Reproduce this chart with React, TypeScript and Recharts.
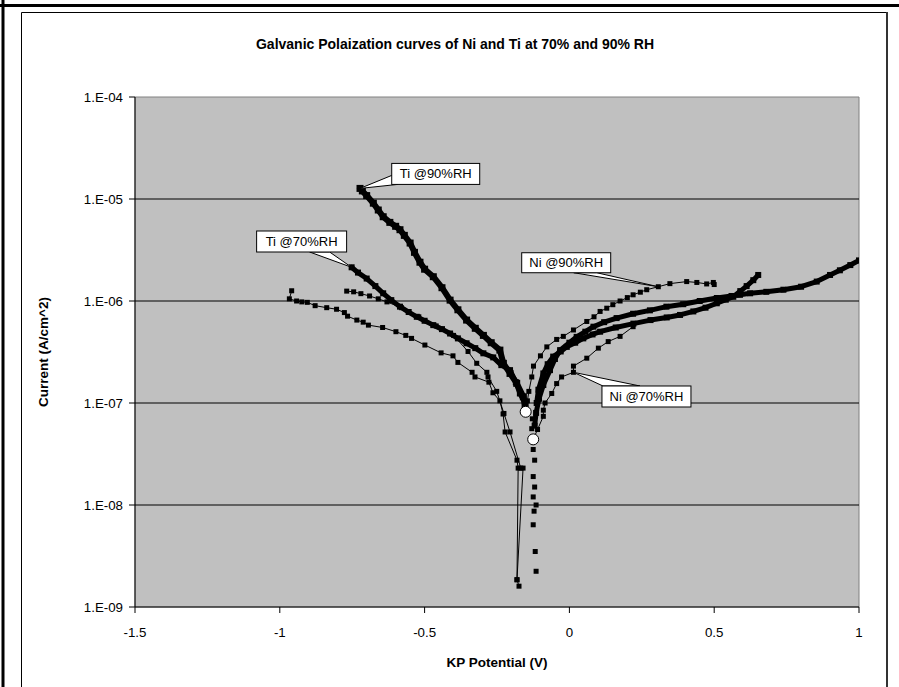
import React from 'react';
import {
  ScatterChart,
  Scatter,
  XAxis,
  YAxis,
  CartesianGrid,
  ReferenceLine,
  ReferenceArea,
  ReferenceDot,
} from 'recharts';

const FONT = '"Liberation Sans", Arial, Helvetica, sans-serif';

const xTicks = [-1.5, -1, -0.5, 0, 0.5, 1];
const yTicks = [1e-9, 1e-8, 1e-7, 1e-6, 1e-5, 1e-4];
const gridDecades = [1e-8, 1e-7, 1e-6, 1e-5];

type P = [number, number];

// Ti @90%RH (dense)
const ti90: P[] = [
  [-0.723, 1.27e-5], [-0.715, 1.2e-5], [-0.7, 1.08e-5], [-0.677, 9.1e-6], [-0.66, 7.8e-6],
  [-0.643, 6.7e-6], [-0.62, 5.9e-6], [-0.6, 5.4e-6], [-0.585, 5.0e-6], [-0.57, 4.4e-6],
  [-0.55, 3.7e-6], [-0.535, 3.0e-6], [-0.516, 2.4e-6], [-0.5, 2.05e-6], [-0.47, 1.73e-6],
  [-0.44, 1.35e-6], [-0.412, 1.02e-6], [-0.385, 8.2e-7], [-0.355, 6.5e-7], [-0.325, 5.4e-7],
  [-0.297, 4.6e-7], [-0.27, 3.9e-7], [-0.24, 3.3e-7], [-0.228, 2.45e-7], [-0.205, 1.95e-7],
  [-0.182, 1.56e-7], [-0.159, 1.15e-7], [-0.153, 9.5e-8],
];

// Ti @70%RH (dense)
const ti70: P[] = [
  [-0.752, 2.14e-6], [-0.73, 1.9e-6], [-0.7, 1.66e-6], [-0.67, 1.4e-6], [-0.643, 1.19e-6],
  [-0.615, 1.02e-6], [-0.585, 8.8e-7], [-0.555, 7.8e-7], [-0.527, 7.0e-7], [-0.5, 6.4e-7],
  [-0.47, 5.8e-7], [-0.44, 5.3e-7], [-0.412, 4.8e-7], [-0.385, 4.3e-7], [-0.355, 3.85e-7],
  [-0.325, 3.45e-7], [-0.297, 3.07e-7], [-0.263, 2.8e-7], [-0.235, 2.35e-7], [-0.205, 2.1e-7],
  [-0.185, 1.6e-7], [-0.171, 1.24e-7], [-0.153, 9.9e-8],
];

// thin cathodic branch starting near -0.77 V
const tiThin: P[] = [
  [-0.769, 1.25e-6], [-0.745, 1.23e-6], [-0.72, 1.18e-6], [-0.69, 1.12e-6], [-0.66, 1.05e-6],
  [-0.63, 9.8e-7], [-0.58, 8.6e-7], [-0.52, 7.0e-7], [-0.46, 5.7e-7], [-0.4, 4.6e-7],
  [-0.35, 3.2e-7], [-0.32, 2.45e-7], [-0.285, 2.0e-7], [-0.281, 1.8e-7], [-0.251, 1.3e-7],
  [-0.226, 7.9e-8], [-0.205, 5.2e-8], [-0.168, 2.3e-8], [-0.16, 2.3e-8], [-0.181, 1.85e-9],
];

// thin cathodic branch starting near -0.97 V
const niThin: P[] = [
  [-0.959, 1.26e-6], [-0.967, 1.05e-6], [-0.942, 1.0e-6], [-0.924, 9.8e-7], [-0.905, 9.7e-7],
  [-0.878, 9.0e-7], [-0.838, 8.6e-7], [-0.804, 8.3e-7], [-0.777, 7.7e-7], [-0.766, 7.1e-7],
  [-0.734, 6.5e-7], [-0.712, 6.2e-7], [-0.694, 5.8e-7], [-0.645, 5.5e-7], [-0.599, 5.0e-7],
  [-0.565, 4.6e-7], [-0.545, 4.3e-7], [-0.499, 3.7e-7], [-0.443, 3.1e-7], [-0.402, 2.9e-7],
  [-0.385, 2.5e-7], [-0.336, 2.0e-7], [-0.326, 1.8e-7], [-0.278, 1.6e-7], [-0.264, 1.26e-7],
  [-0.24, 1.05e-7], [-0.229, 7.8e-8], [-0.222, 5.2e-8], [-0.181, 2.75e-8], [-0.177, 2.3e-8],
  [-0.181, 1.85e-9], [-0.174, 1.6e-9],
];

// Ni @90%RH (thin line with markers)
const ni90: P[] = [
  [-0.15, 8.5e-8], [-0.145, 1.05e-7], [-0.14, 1.3e-7], [-0.13, 1.8e-7], [-0.124, 2.3e-7],
  [-0.1, 2.9e-7], [-0.078, 3.55e-7], [-0.044, 4.2e-7], [-0.021, 4.5e-7], [0.014, 5.2e-7],
  [0.06, 6.3e-7], [0.085, 7.0e-7], [0.106, 7.9e-7], [0.129, 8.5e-7], [0.15, 9.2e-7],
  [0.175, 1.0e-6], [0.2, 1.08e-6], [0.22, 1.15e-6], [0.245, 1.22e-6], [0.267, 1.29e-6],
  [0.307, 1.38e-6], [0.347, 1.48e-6], [0.405, 1.55e-6], [0.44, 1.52e-6], [0.474, 1.47e-6],
  [0.497, 1.52e-6], [0.5, 1.45e-6],
];

// markers only, near-OCP cathodic scatter
const ni90Dots: P[] = [
  [-0.128, 7.0e-8], [-0.13, 5.6e-8], [-0.125, 3.5e-8], [-0.12, 2.75e-8], [-0.125, 1.9e-8],
  [-0.12, 1.5e-8], [-0.125, 1.2e-8], [-0.115, 1.0e-8], [-0.122, 8.7e-9], [-0.125, 6.4e-9],
  [-0.118, 3.5e-9], [-0.115, 2.24e-9],
];

// dense anodic branch ending at 0.65 V
const anodic65: P[] = [
  [-0.113, 1.0e-7], [-0.107, 1.35e-7], [-0.09, 1.95e-7], [-0.075, 2.4e-7], [-0.056, 2.85e-7],
  [-0.03, 3.2e-7], [-0.009, 3.55e-7], [0.02, 3.9e-7], [0.048, 4.3e-7], [0.08, 4.7e-7],
  [0.106, 5.0e-7], [0.16, 5.5e-7], [0.221, 6.0e-7], [0.28, 6.5e-7], [0.336, 6.9e-7],
  [0.382, 7.3e-7], [0.428, 7.9e-7], [0.47, 8.6e-7], [0.509, 9.5e-7], [0.54, 1.03e-6],
  [0.566, 1.1e-6], [0.59, 1.25e-6], [0.612, 1.4e-6], [0.635, 1.6e-6], [0.652, 1.8e-6],
];

// dense anodic branch ending at 1.0 V
const anodic100: P[] = [
  [-0.12, 6e-8], [-0.115, 8e-8], [-0.105, 1.1e-7], [-0.09, 1.5e-7], [-0.067, 2.1e-7],
  [-0.05, 2.7e-7], [-0.032, 3.3e-7], [0.0, 3.9e-7], [0.025, 4.45e-7], [0.055, 5.0e-7],
  [0.083, 5.6e-7], [0.12, 6.2e-7], [0.163, 6.8e-7], [0.22, 7.5e-7], [0.278, 8.1e-7],
  [0.335, 8.8e-7], [0.393, 9.3e-7], [0.45, 1.0e-6], [0.509, 1.07e-6], [0.56, 1.12e-6],
  [0.589, 1.15e-6], [0.624, 1.19e-6], [0.68, 1.23e-6], [0.739, 1.29e-6], [0.8, 1.38e-6],
  [0.854, 1.55e-6], [0.9, 1.8e-6], [0.934, 2.0e-6], [0.97, 2.25e-6], [1.0, 2.5e-6],
];

// Ni @70%RH (thin line with markers)
const ni70: P[] = [
  [-0.125, 4.4e-8], [-0.11, 5.5e-8], [-0.09, 7.4e-8], [-0.09, 8.5e-8], [-0.084, 1.0e-7],
  [-0.061, 1.24e-7], [-0.044, 1.55e-7], [-0.027, 1.8e-7], [0.014, 2.0e-7], [0.014, 2.3e-7],
  [0.06, 2.75e-7], [0.1, 3.45e-7], [0.134, 4.0e-7], [0.175, 4.5e-7], [0.22, 5.6e-7],
];

// open-circuit points
const ocp: P[] = [[-0.151, 8.2e-8], [-0.125, 4.4e-8]];

const toPts = (a: P[]) => a.map(([x, y]) => ({ x, y }));

const fmtY = (v: number) => {
  const e = Math.round(-Math.log10(v));
  return `1.E-${e < 10 ? '0' + e : e}`;
};

const square = (s: number) => (p: any) => (
  <rect x={p.cx - s / 2} y={p.cy - s / 2} width={s} height={s} fill="#000" />
);
const openCircle = (p: any) => (
  <circle cx={p.cx} cy={p.cy} r={5.5} fill="#fff" stroke="#000" strokeWidth={1} />
);

const callout =
  (text: string, dx: number, dy: number, w: number, h: number, base: P[]) =>
  (p: any) => {
    const { cx, cy } = p;
    const bx = cx + dx;
    const by = cy + dy;
    const pts = `${cx},${cy} ${bx + base[0][0]},${by + base[0][1]} ${bx + base[1][0]},${by + base[1][1]}`;
    return (
      <g>
        <polygon points={pts} fill="#fff" stroke="#000" strokeWidth={1} />
        <rect x={bx} y={by} width={w} height={h} fill="#fff" stroke="#000" strokeWidth={1} />
        <text
          x={bx + w / 2}
          y={by + h / 2}
          textAnchor="middle"
          dominantBaseline="central"
          fontSize={13}
          fontFamily={FONT}
          fill="#000"
        >
          {text}
        </text>
      </g>
    );
  };

const thinLine = { stroke: '#000', strokeWidth: 1 };
const thickLine = { stroke: '#000', strokeWidth: 5, strokeLinejoin: 'round', strokeLinecap: 'round' };

export default function App() {
  return (
    <div style={{ position: 'absolute', left: 0, top: 0, width: 899, height: 687, background: '#fff' }}>
      <svg width={899} height={687} style={{ position: 'absolute', left: 0, top: 0 }}>
        <line x1={0} y1={5.5} x2={899} y2={5.5} stroke="#000" strokeWidth={3} />
        <line x1={3} y1={0} x2={3} y2={687} stroke="#000" strokeWidth={3} />
        <line x1={21.5} y1={12.5} x2={887} y2={12.5} stroke="#000" strokeWidth={1} />
        <line x1={21.5} y1={12.5} x2={21.5} y2={687} stroke="#000" strokeWidth={1} />
        <line x1={887} y1={12} x2={887} y2={687} stroke="#333" strokeWidth={2} />
        <text x={455} y={44} textAnchor="middle" dominantBaseline="central" fontSize={14}
          fontWeight="bold" fontFamily={FONT} fill="#000">
          Galvanic Polaization curves of Ni and Ti at 70% and 90% RH
        </text>
        <text x={497} y={662} textAnchor="middle" dominantBaseline="central" fontSize={13.5}
          fontWeight="bold" fontFamily={FONT} fill="#000">
          KP Potential (V)
        </text>
        <text x={43} y={352} transform="rotate(-90 43 352)" textAnchor="middle" dominantBaseline="central"
          fontSize={13.5} fontWeight="bold" fontFamily={FONT} fill="#000">
          Current (A/cm^2)
        </text>
      </svg>
      <div style={{ position: 'absolute', left: 0, top: 0 }}>
        <ScatterChart width={899} height={687} margin={{ top: 97, right: 40, bottom: 50, left: 75 }}>
          <CartesianGrid horizontal={false} vertical={false} fill="#C0C0C0" />
          <XAxis
            type="number"
            dataKey="x"
            domain={[-1.5, 1]}
            ticks={xTicks}
            allowDataOverflow
            height={30}
            tickSize={6}
            tickMargin={15}
            axisLine={{ stroke: '#000' }}
            tickLine={{ stroke: '#000' }}
            tick={{ fill: '#000', fontSize: 13.3, fontFamily: FONT }}
          />
          <YAxis
            type="number"
            dataKey="y"
            scale="log"
            domain={[1e-9, 1e-4]}
            ticks={yTicks}
            allowDataOverflow
            width={60}
            tickSize={6}
            tickMargin={6}
            tickFormatter={fmtY}
            axisLine={{ stroke: '#000' }}
            tickLine={{ stroke: '#000' }}
            tick={{ fill: '#000', fontSize: 13.3, fontFamily: FONT }}
          />
          {gridDecades.map((d) => (
            <ReferenceLine key={d} y={d} stroke="#000" strokeWidth={1} />
          ))}
          <ReferenceArea x1={-1.5} x2={1} y1={1e-9} y2={1e-4} fill="none" stroke="#808080" strokeWidth={1} />
          <Scatter data={toPts(niThin)} line={thinLine} lineType="joint" shape={square(5)} isAnimationActive={false} />
          <Scatter data={toPts(tiThin)} line={thinLine} lineType="joint" shape={square(5)} isAnimationActive={false} />
          <Scatter data={toPts(ni90Dots)} shape={square(5)} isAnimationActive={false} />
          <Scatter data={toPts(ni70)} line={thinLine} lineType="joint" shape={square(5)} isAnimationActive={false} />
          <Scatter data={toPts(ni90)} line={thinLine} lineType="joint" shape={square(5)} isAnimationActive={false} />
          <Scatter data={toPts(anodic65)} line={thickLine} lineType="joint" shape={square(6)} isAnimationActive={false} />
          <Scatter data={toPts(anodic100)} line={thickLine} lineType="joint" shape={square(6)} isAnimationActive={false} />
          <Scatter data={toPts(ti70)} line={thickLine} lineType="joint" shape={square(6)} isAnimationActive={false} />
          <Scatter data={toPts(ti90)} line={{ ...thickLine, strokeWidth: 6 }} lineType="joint" shape={square(7)} isAnimationActive={false} />
          <Scatter data={toPts(ocp)} shape={openCircle} isAnimationActive={false} />
          <ReferenceDot x={ti90[0][0]} y={ti90[0][1]} r={0} ifOverflow="visible"
            shape={callout('Ti @90%RH', 31.7, -25, 88, 21, [[0, 12], [6, 21]])} />
          <ReferenceDot x={ti70[0][0]} y={ti70[0][1]} r={0} ifOverflow="visible"
            shape={callout('Ti @70%RH', -95, -36.3, 90, 21, [[53, 21], [73, 21]])} />
          <ReferenceDot x={ni90[20][0]} y={ni90[20][1]} r={0} ifOverflow="visible"
            shape={callout('Ni @90%RH', -136.6, -34, 89, 20, [[52, 20], [75, 20]])} />
          <ReferenceDot x={ni70[8][0]} y={ni70[8][1]} r={0} ifOverflow="visible"
            shape={callout('Ni @70%RH', 28.5, 13.7, 89, 21, [[1, 0], [38, 0]])} />
        </ScatterChart>
      </div>
    </div>
  );
}
